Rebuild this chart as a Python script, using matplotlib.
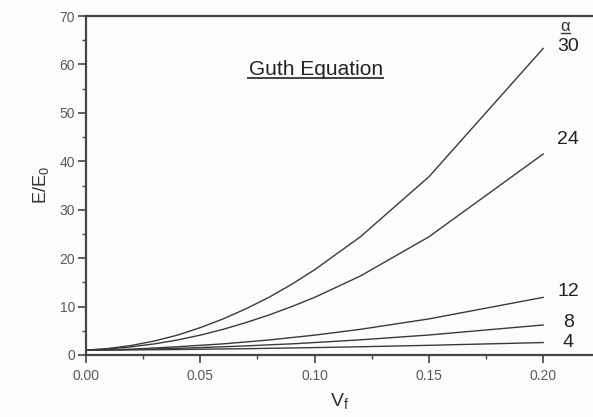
import matplotlib
matplotlib.use('Agg')
import matplotlib.pyplot as plt
from matplotlib.ticker import MultipleLocator

plt.rcParams.update({
    'font.family': ['Liberation Sans', 'DejaVu Sans'],
    'font.size': 10,
})

# ---------- Data ----------
vf = [0.00, 0.01, 0.02, 0.03, 0.04, 0.05, 0.06, 0.07, 0.08, 0.09, 0.10,
      0.12, 0.15, 0.20]
alphas = [30, 24, 12, 8, 4]
e_30 = [1.0, 1.35, 1.98, 2.9, 4.1, 5.65, 7.45, 9.55, 11.9, 14.6, 17.6,
        24.4, 36.8, 63.3]
e_24 = [1.0, 1.25, 1.7, 2.3, 3.1, 4.1, 5.3, 6.7, 8.25, 10.0, 11.9,
        16.3, 24.4, 41.5]
e_12 = [1.0, 1.1, 1.2, 1.45, 1.7, 2.0, 2.3, 2.7, 3.1, 3.6, 4.1,
        5.3, 7.45, 11.9]
e_8 = [1.0, 1.06, 1.13, 1.25, 1.38, 1.53, 1.7, 1.88, 2.1, 2.3, 2.57,
       3.13, 4.13, 6.2]
e_4 = [1.0, 1.03, 1.06, 1.09, 1.13, 1.2, 1.25, 1.3, 1.38, 1.45, 1.53,
       1.7, 2.0, 2.57]
curves = [e_30, e_24, e_12, e_8, e_4]

LINE = '#3a3a3a'
SPINE = '#454545'
TICKTXT = '#5a5a5a'

# ---------- Figure ----------
fig = plt.figure(figsize=(5.93, 4.17), dpi=100)
fig.patch.set_facecolor('#fcfcfc')
ax = fig.add_axes([86 / 593, 62 / 417, 1 - 86 / 593, 339 / 417])
ax.set_facecolor('#fcfcfc')

for a, e in zip(alphas, curves):
    ax.plot(vf, e, color=LINE, lw=1.0)

# curve labels just right of the line ends
label_dy = [0.3, 2.9, 1.3, 0.6, 0.1]
for a, e, dy in zip(alphas, curves, label_dy):
    ax.text(0.2110, e[-1] + dy, str(a), ha='center', va='center',
            fontsize=14, color='#222222')
ax.text(0.2097, 67.8, 'α', ha='center', va='center',
        fontsize=12, color='#333333')
ax.plot([0.2076, 0.2118], [66.4, 66.4], color='#333333', lw=1.0)

ax.text(0.1005, 57.9, 'Guth Equation', ha='center', va='baseline',
        fontsize=15, color='#222222')
ax.plot([0.0706, 0.1302], [57.3, 57.3], color='#333333', lw=1.3,
        solid_capstyle='butt')

# ---------- Axes formatting ----------
ax.set_xlim(0, 0.2218)
ax.set_ylim(0, 70)
ax.xaxis.set_major_locator(MultipleLocator(0.05))
ax.xaxis.set_minor_locator(MultipleLocator(0.025))
ax.yaxis.set_major_locator(MultipleLocator(10))
ax.yaxis.set_minor_locator(MultipleLocator(5))
ax.xaxis.set_major_formatter(plt.FuncFormatter(lambda v, p: f'{v:.2f}'))

ax.tick_params(which='major', direction='out', length=6, width=1.2,
               color=SPINE, labelcolor=TICKTXT, labelsize=10)
ax.tick_params(which='minor', direction='out', length=3, width=1.0,
               color=SPINE)
ax.tick_params(axis='x', pad=4)
ax.tick_params(axis='y', pad=2)

for side in ['left', 'top', 'bottom']:
    ax.spines[side].set_color(SPINE)
    ax.spines[side].set_linewidth(1.6)
ax.spines['right'].set_visible(False)

ax.set_xlabel(r'V$_\mathregular{f}$', fontsize=14, color='#333333', labelpad=6)
ax.set_ylabel(r'E/E$_\mathregular{0}$', fontsize=13, color='#333333',
              labelpad=6)

fig.savefig('out.png', dpi=100, facecolor=fig.get_facecolor())
plt.close(fig)
